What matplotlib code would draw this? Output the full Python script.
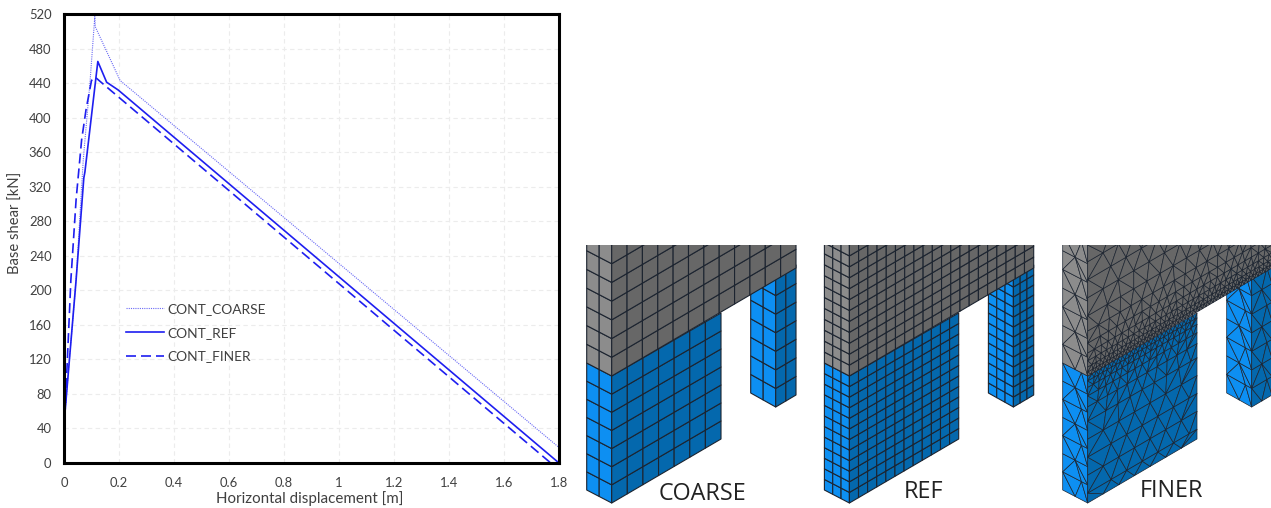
"""
Pushover curves for the three mesh sizes, with sketches of the meshes on the right.
"""
import matplotlib
matplotlib.use("Agg")
import matplotlib.pyplot as plt
from matplotlib.collections import PolyCollection
from matplotlib.patches import Rectangle

# Curves
coarse_x = [0, 0.004, 0.044, 0.07, 0.095, 0.112, 0.114, 0.204, 1.8]
coarse_y = [0, 60, 212, 351, 443, 517, 505, 443, 18]
ref_x = [0, 0.004, 0.044, 0.072, 0.076, 0.123, 0.155, 0.197, 1.8]
ref_y = [0, 60, 212, 330, 337, 465, 441, 432, 0]
finer_x = [0, 0.004, 0.025, 0.044, 0.064, 0.08, 0.10, 0.113, 0.131, 1.77]
finer_y = [0, 60, 212, 305, 374, 409, 443, 447, 442, 0]

x_ticks = [0, 0.2, 0.4, 0.6, 0.8, 1.0, 1.2, 1.4, 1.6, 1.8]
x_labels = ["0", "0.2", "0.4", "0.6", "0.8", "1", "1.2", "1.4", "1.6", "1.8"]
y_ticks = list(range(0, 521, 40))

mesh_names = ["COARSE", "REF", "FINER"]
mesh_offsets = [0, 237.7, 476]
mesh_label_x = [703, 923, 1171]
mesh_label_y = [494, 492, 491]

BLUE = "#1e1ef0"
PALE = "#6a6af5"
TXT = "#404040"
GRAY_L, GRAY_R = "#8c8c8c", "#676767"
BLUE_L, BLUE_R = "#0d8ff2", "#0468ad"
EDGE = "#1c2430"

plt.rcParams["font.family"] = ["Lato", "DejaVu Sans"]
W, H = 1271, 508
fig = plt.figure(figsize=(W / 100, H / 100), dpi=100)

# ---- chart ----
ax = fig.add_axes([64 / W, (H - 463) / H, 495 / W, 449 / H])
ax.plot(coarse_x, coarse_y, color=PALE, lw=0.8, ls=(0, (1, 1)), label="CONT_COARSE")
ax.plot(ref_x, ref_y, color=BLUE, lw=1.2, label="CONT_REF")
ax.plot(finer_x, finer_y, color=BLUE, lw=1.2, ls=(0, (6, 3)), label="CONT_FINER")
ax.set_xlim(0, 1.8)
ax.set_ylim(0, 520)
ax.set_xticks(x_ticks, x_labels)
ax.set_yticks(y_ticks)
ax.tick_params(length=0, labelsize=9.4, labelcolor=TXT)
ax.tick_params(axis="x", pad=10)
ax.tick_params(axis="y", pad=9)
ax.grid(color="#ececec", lw=0.8, ls=(0, (4, 3)))
ax.set_axisbelow(True)
for s in ax.spines.values():
    s.set_linewidth(2.2)
    s.set_color("black")
fig.text(310 / W, 1 - 499 / H, "Horizontal displacement [m]", ha="center", va="center",
         fontsize=10.9, color=TXT)
fig.text(16 / W, 1 - 223 / H, "Base shear [kN]", ha="center", va="center", rotation=90,
         fontsize=10.6, color=TXT)
ax.legend(loc="upper left", bbox_to_anchor=(123 / W, 1 - 300 / H), bbox_transform=fig.transFigure,
          frameon=False, fontsize=9.9, handlelength=2.75, handletextpad=0.25, labelspacing=0.86,
          labelcolor=TXT, borderpad=0.2, borderaxespad=0)

# ---- mesh sketches, drawn in pixel coordinates ----
mx = fig.add_axes([0, 0, 1, 1], facecolor="none")
mx.set_xlim(0, W)
mx.set_ylim(H, 0)
mx.axis("off")


def bilinear(face, u, v):
    p00, p10, p01, p11 = face
    xb = p00[0] + (p10[0] - p00[0]) * u
    yb = p00[1] + (p10[1] - p00[1]) * u
    xt = p01[0] + (p11[0] - p01[0]) * u
    yt = p01[1] + (p11[1] - p01[1]) * u
    return (xb + (xt - xb) * v, yb + (yt - yb) * v)


def add_polys(polys, color, clip, lw=0.8):
    pc = PolyCollection(polys, facecolors=color, edgecolors=EDGE, linewidths=lw)
    mx.add_collection(pc)
    pc.set_clip_path(clip)


def quad_face(face, nu, nv, color, clip):
    polys = []
    for i in range(nu):
        for j in range(nv):
            polys.append([bilinear(face, i / nu, j / nv), bilinear(face, (i + 1) / nu, j / nv),
                          bilinear(face, (i + 1) / nu, (j + 1) / nv), bilinear(face, i / nu, (j + 1) / nv)])
    add_polys(polys, color, clip)


def tri_face(face, rows, counts, color, clip):
    # rows of nodes joined by triangles; the node count can change from row to row
    polys = []
    for k in range(len(rows) - 1):
        n1, n2 = counts[k], counts[k + 1]
        low = [(i + (0.5 if k % 2 and 0 < i < n1 else 0)) / n1 for i in range(n1 + 1)]
        up = [(i + (0.5 if (k + 1) % 2 and 0 < i < n2 else 0)) / n2 for i in range(n2 + 1)]
        i, j = 0, 0
        while i < n1 or j < n2:
            a = bilinear(face, low[i], rows[k])
            b = bilinear(face, up[j], rows[k + 1])
            if j == n2 or (i < n1 and low[i + 1] <= up[j + 1]):
                polys.append([a, bilinear(face, low[i + 1], rows[k]), b])
                i += 1
            else:
                polys.append([a, bilinear(face, up[j + 1], rows[k + 1]), b])
                j += 1
    add_polys(polys, color, clip, lw=0.5)


def graded(height, width, first, ratio, largest, min_count):
    rows, counts = [0.0], []
    d, step = 0.0, first
    counts.append(max(min_count, round(width / first)))
    while d < height:
        d += step
        rows.append(min(d, height) / height)
        counts.append(max(min_count, round(width / step)))
        step = min(step * ratio, largest)
    return rows, counts


def faces(dx):
    front, left = 611.7 + dx, 586.7 + dx
    fr_b = 721 + dx
    far = 796 + dx
    col_l, col_c = 750.7 + dx, 775.7 + dx
    return {
        # the column tops run on behind the beam
        "col_l": [(col_l, 393), (col_c, 407), (col_l, 263), (col_c, 277)],
        "col_r": [(col_c, 407), (far, 395), (col_c, 277), (far, 265)],
        "blue_l": [(left, 490), (front, 503), (left, 363), (front, 376)],
        "blue_r": [(front, 503), (fr_b, 439), (front, 376), (fr_b, 313)],
        "gray_l": [(left, 363), (front, 376), (left, 232), (front, 245)],
        "gray_r": [(front, 376), (far, 268), (front, 245), (far, 137)],
    }


for name, dx, lx, ly in zip(mesh_names, mesh_offsets, mesh_label_x, mesh_label_y):
    f = faces(dx)
    clip = Rectangle((585 + dx, 245), 212 if name != "FINER" else 210, 262,
                     transform=mx.transData, fill=False, lw=0)
    mx.add_patch(clip)
    if name == "COARSE":
        quad_face(f["col_l"], 2, 7, BLUE_L, clip)
        quad_face(f["col_r"], 2, 7, BLUE_R, clip)
        quad_face(f["blue_l"], 2, 7, BLUE_L, clip)
        quad_face(f["blue_r"], 7, 7, BLUE_R, clip)
        quad_face(f["gray_l"], 2, 7, GRAY_L, clip)
        quad_face(f["gray_r"], 12, 7, GRAY_R, clip)
    elif name == "REF":
        quad_face(f["col_l"], 3, 13, BLUE_L, clip)
        quad_face(f["col_r"], 3, 13, BLUE_R, clip)
        quad_face(f["blue_l"], 3, 12, BLUE_L, clip)
        quad_face(f["blue_r"], 12, 12, BLUE_R, clip)
        quad_face(f["gray_l"], 3, 12, GRAY_L, clip)
        quad_face(f["gray_r"], 20, 12, GRAY_R, clip)
    else:
        tri_face(f["col_l"], [k / 7 for k in range(8)], [2] * 8, BLUE_L, clip)
        tri_face(f["col_r"], [k / 7 for k in range(8)], [2] * 8, BLUE_R, clip)
        tri_face(f["blue_l"], [k / 7 for k in range(8)], [2] * 8, BLUE_L, clip)
        # grading runs away from the beam edge, so the face is given top edge first
        b = f["blue_r"]
        tri_face([b[2], b[3], b[0], b[1]], *graded(127, 126, 5, 1.3, 18, 7), BLUE_R, clip)
        tri_face(f["gray_l"], [k / 7 for k in range(8)], [2] * 8, GRAY_L, clip)
        tri_face(f["gray_r"], *graded(131, 213, 4, 1.25, 18, 12), GRAY_R, clip)
    mx.text(lx, ly, name, ha="center", va="center", fontsize=16.8, color="#222222",
            family=["Open Sans", "DejaVu Sans"])

fig.savefig("out.png", dpi=100)
